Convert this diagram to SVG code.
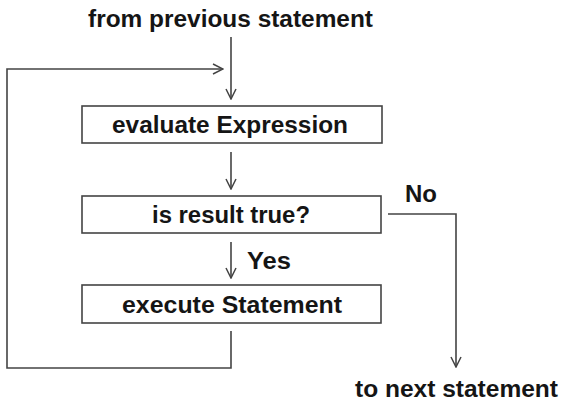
<svg xmlns="http://www.w3.org/2000/svg" width="561" height="407" viewBox="0 0 561 407">
<defs>
<style>
.t{font-family:"Liberation Sans",Arial,sans-serif;font-weight:bold;font-size:23px;fill:#151515;text-anchor:middle}
.b{fill:#fff;stroke:#444;stroke-width:1.6}
.c{fill:none;stroke:#444;stroke-width:1.6}
</style>
<marker id="ah" viewBox="0 0 12 12" refX="11" refY="6" markerWidth="12" markerHeight="12" markerUnits="userSpaceOnUse" orient="auto">
<path d="M1,1 L11,6 L1,11" fill="none" stroke="#444" stroke-width="1.5"/>
</marker>
</defs>
<rect width="561" height="407" fill="#fff"/>
<text class="t" x="230.5" y="27" textLength="285" lengthAdjust="spacingAndGlyphs">from previous statement</text>
<g id="connectors">
<path class="c" d="M231,37 V99" marker-end="url(#ah)"/>
<path class="c" d="M231,331 V368 H7 V69 H223" marker-end="url(#ah)"/>
<path class="c" d="M231,152 V189" marker-end="url(#ah)"/>
<path class="c" d="M231,242 V278" marker-end="url(#ah)"/>
<path class="c" d="M388,214 H456 V367" marker-end="url(#ah)"/>
<text class="t" x="421" y="202" textLength="32" lengthAdjust="spacingAndGlyphs">No</text>
<text class="t" x="269" y="269" textLength="44" lengthAdjust="spacingAndGlyphs">Yes</text>
</g>
<g id="evaluate">
<rect class="b" x="82" y="106" width="300" height="37"/>
<text class="t" x="230" y="133" textLength="236" lengthAdjust="spacingAndGlyphs">evaluate Expression</text>
</g>
<g id="test">
<rect class="b" x="82" y="196" width="299" height="37"/>
<text class="t" x="231" y="223" textLength="158" lengthAdjust="spacingAndGlyphs">is result true?</text>
</g>
<g id="execute">
<rect class="b" x="82" y="285" width="299" height="38"/>
<text class="t" x="232" y="313" textLength="220" lengthAdjust="spacingAndGlyphs">execute Statement</text>
</g>
<text class="t" x="456.5" y="397" textLength="203" lengthAdjust="spacingAndGlyphs">to next statement</text>
</svg>
